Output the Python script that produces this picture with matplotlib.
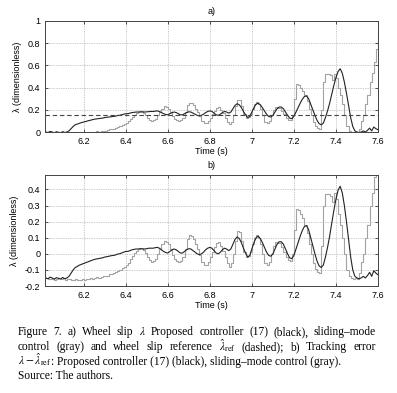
import numpy as np
import matplotlib
matplotlib.use('Agg')
import matplotlib.pyplot as plt

plt.rcParams['font.family'] = ['Liberation Sans', 'DejaVu Sans']
plt.rcParams['mathtext.fontset'] = 'stix'

# time grid of the recorded signals (s)
t = np.round(np.arange(6.02, 7.6001, 0.01), 2)

lam_ref = 0.15  # wheel slip reference (dashed)

# tracking error lambda - lambda_ref, proposed controller (black)
err_prop = [
    -0.150, -0.155, -0.145, -0.150, -0.158, -0.148, -0.152, -0.157,
    -0.147, -0.155, -0.150, -0.140, -0.120, -0.100, -0.085, -0.078, -0.070, -0.065,
    -0.060, -0.055, -0.050, -0.045, -0.040, -0.035, -0.032, -0.030, -0.027, -0.025,
    -0.020, -0.018, -0.015, -0.012, -0.010, -0.008, -0.002, 0.000, 0.005, 0.010,
    0.015, 0.015, 0.020, 0.025, 0.028, 0.030, 0.030, 0.032, 0.030, 0.030,
    0.032, 0.035, 0.035, 0.035, 0.038, 0.040, 0.035, 0.025, 0.015, 0.008,
    0.005, 0.015, 0.025, 0.030, 0.025, 0.015, 0.005, 0.005, 0.015, 0.025,
    0.032, 0.030, 0.020, 0.010, 0.000, -0.005, 0.000, 0.010, 0.025, 0.035,
    0.040, 0.035, 0.020, 0.005, 0.000, 0.010, 0.025, 0.035, 0.030, 0.020,
    0.030, 0.060, 0.090, 0.105, 0.095, 0.070, 0.035, 0.005, -0.020, -0.010,
    0.030, 0.070, 0.100, 0.110, 0.095, 0.070, 0.040, 0.010, -0.010, -0.015,
    0.000, 0.030, 0.060, 0.075, 0.075, 0.060, 0.030, 0.000, -0.025, -0.030,
    -0.010, 0.030, 0.070, 0.110, 0.145, 0.170, 0.175, 0.150, 0.100, 0.050,
    0.000, -0.045, -0.075, -0.085, -0.070, -0.020, 0.040, 0.110, 0.190, 0.270,
    0.340, 0.395, 0.420, 0.380, 0.300, 0.200, 0.090, -0.020, -0.100, -0.140,
    -0.150, -0.155, -0.150, -0.140, -0.150, -0.135, -0.115, -0.140, -0.105, -0.120,
    -0.130,
]

# tracking error, sliding-mode control (gray)
err_smc = [
    -0.150, -0.155, -0.155, -0.150, -0.160, -0.155, -0.150, -0.155,
    -0.150, -0.160, -0.155, -0.155, -0.160, -0.160, -0.155, -0.160, -0.160, -0.155,
    -0.160, -0.155, -0.155, -0.150, -0.155, -0.150, -0.145, -0.150, -0.145, -0.140,
    -0.140, -0.135, -0.125, -0.125, -0.120, -0.110, -0.105, -0.100, -0.090, -0.080,
    -0.070, -0.055, -0.035, -0.015, 0.005, 0.020, 0.030, 0.035, 0.025, 0.005,
    -0.020, -0.040, -0.050, -0.045, -0.030, 0.000, 0.030, 0.060, 0.080, 0.075,
    0.060, 0.030, -0.005, -0.030, -0.045, -0.050, -0.045, -0.020, 0.030, 0.090,
    0.115, 0.110, 0.090, 0.060, 0.030, -0.010, -0.050, -0.070, -0.070, -0.050,
    -0.020, 0.010, 0.040, 0.070, 0.075, 0.050, 0.020, -0.020, -0.060, -0.080,
    -0.060, 0.000, 0.080, 0.140, 0.135, 0.080, 0.010, -0.020, -0.015, 0.010,
    0.060, 0.100, 0.120, 0.100, 0.060, 0.000, -0.060, -0.070, -0.050, 0.000,
    0.050, 0.075, 0.070, 0.065, 0.040, 0.010, -0.020, -0.040, -0.045, 0.000,
    0.150, 0.280, 0.275, 0.250, 0.220, 0.180, 0.130, 0.060, 0.000, -0.060,
    -0.095, -0.115, -0.120, 0.050, 0.300, 0.370, 0.370, 0.360, 0.320, 0.375,
    0.340, 0.250, 0.180, 0.100, 0.000, -0.100, -0.140, -0.150, -0.155, -0.150,
    -0.155, -0.120, -0.050, 0.000, 0.100, 0.180, 0.300, 0.380, 0.480, 0.600,
    0.730,
]

err_prop = np.array(err_prop)
err_smc = np.array(err_smc)
lam_prop = lam_ref + err_prop
lam_smc = lam_ref + err_smc

xticks = [6.2, 6.4, 6.6, 6.8, 7.0, 7.2, 7.4, 7.6]
xticklabels = ['6.2', '6.4', '6.6', '6.8', '7', '7.2', '7.4', '7.6']
yticks_a = [0, 0.2, 0.4, 0.6, 0.8, 1.0]
yticklabels_a = ['0', '0.2', '0.4', '0.6', '0.8', '1']
yticks_b = [-0.2, -0.1, 0, 0.1, 0.2, 0.3, 0.4]
yticklabels_b = ['-0.2', '-0.1', '0', '0.1', '0.2', '0.3', '0.4']

W, H = 397, 393
fig = plt.figure(figsize=(W / 100, H / 100), dpi=100)
ax1 = fig.add_axes([45 / W, 1 - 132 / H, 333 / W, 111 / H])
ax2 = fig.add_axes([45 / W, 1 - 286 / H, 333 / W, 111 / H])

gray = '#a3a3a3'
fs = 6.5


def style(ax, yt, ytl, ylim, title):
    ax.set_xlim(6.016, 7.6)
    ax.set_ylim(*ylim)
    ax.set_xticks(xticks)
    ax.set_xticklabels(xticklabels, fontsize=fs)
    ax.set_yticks(yt)
    ax.set_yticklabels(ytl, fontsize=fs)
    ax.tick_params(direction='in', length=2.5, width=0.6, pad=3.5, color='#333333')
    ax.tick_params(top=True, right=True)
    ax.grid(True, linestyle=(0, (1, 1.5)), color='#9a9a9a', linewidth=0.5)
    for s in ax.spines.values():
        s.set_color('#444444')
        s.set_linewidth(0.7)
    ax.set_xlabel('Time (s)', fontsize=fs, labelpad=1)
    ax.set_ylabel('λ (dimensionless)', fontsize=fs, labelpad=4)
    ax.set_title(title, fontsize=fs, pad=5)


ax1.plot(t, lam_smc, color=gray, lw=0.8, drawstyle='steps-post')
ax1.plot(t, lam_prop, color='#222222', lw=0.8)
ax1.axhline(lam_ref, color='#444444', lw=0.8, dashes=(4, 2.5))
style(ax1, yticks_a, yticklabels_a, (0, 1), 'a)')

ax2.plot(t, err_smc, color=gray, lw=0.8, drawstyle='steps-post')
ax2.plot(t, err_prop, color='#222222', lw=0.8)
style(ax2, yticks_b, yticklabels_b, (-0.2, 0.49), 'b)')

# caption: first two lines justified word by word, the rest left aligned
cap_fs = 8.3
serif = ['Liberation Serif', 'DejaVu Serif']
just_lines = [
    'Figure 7. a) Wheel slip $\\lambda$ Proposed controller (17) (black), sliding\u2013mode',
    'control (gray) and wheel slip reference $\\hat{\\lambda}_{\\mathrm{ref}}$ (dashed); b) Tracking error',
]
x0, x1 = 18, 376

fig.canvas.draw()
r = fig.canvas.get_renderer()
for ln, yb in zip(just_lines, [335, 350]):
    words = ln.split(' ')
    txts = [fig.text(0, 1 - yb / H, w, fontsize=cap_fs, family=serif, va='baseline')
            for w in words]
    widths = [tx.get_window_extent(r).width for tx in txts]
    gap = (x1 - x0 - sum(widths)) / (len(words) - 1)
    x = x0
    for tx, w in zip(txts, widths):
        tx.set_x(x / W)
        x += w + gap

yb = 365
m = fig.text(x0 / W, 1 - yb / H, '$\\lambda - \\hat{\\lambda}_{\\mathrm{ref}}$',
             fontsize=cap_fs, family=serif, va='baseline')
mw = m.get_window_extent(r).width
fig.text((x0 + mw) / W, 1 - yb / H,
         ': Proposed controller (17) (black), sliding\u2013mode control (gray).',
         fontsize=cap_fs, family=serif, va='baseline')
fig.text(x0 / W, 1 - 379 / H, 'Source: The authors.',
         fontsize=cap_fs, family=serif, va='baseline')

fig.savefig('out.png', dpi=100)
